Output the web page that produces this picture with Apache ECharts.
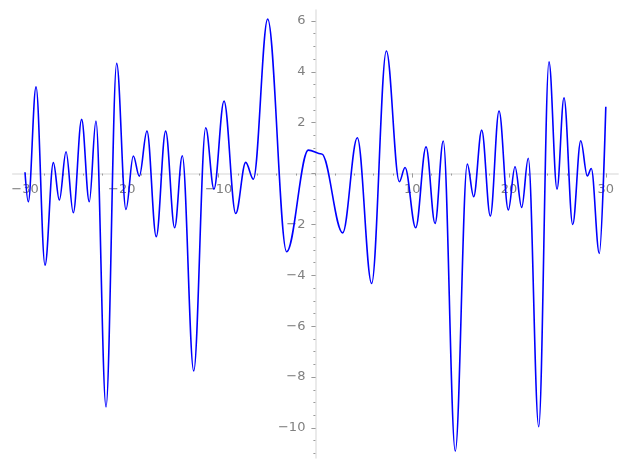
<!DOCTYPE html>
<html>
<head>
<meta charset="utf-8">
<script src="https://cdn.jsdelivr.net/npm/echarts@6/dist/echarts.min.js"></script>
<style>html,body{margin:0;padding:0;background:#fff}#c{width:627px;height:470px}</style>
</head>
<body>
<div id="c"></div>
<script>
// Curve samples (x, y), mostly local extrema
var xValues = [-30.0, -29.66, -28.86, -27.93, -27.07, -26.45, -25.76, -25.01, -24.15, -23.36,
  -22.67, -21.63, -20.53, -19.57, -18.81, -18.19, -17.40, -16.44, -15.47, -14.54,
  -13.75, -12.57, -11.33, -10.48, -9.44, -8.23, -7.20, -6.41, -4.93, -2.97,
  -0.73, 0.65, 2.82, 4.33, 5.81, 7.33, 8.67, 9.26, 10.36, 11.43,
  12.36, 13.21, 14.45, 15.69, 16.35, 17.18, 18.07, 18.97, 19.93, 20.62,
  21.31, 21.99, 23.07, 24.13, 24.96, 25.68, 26.58, 27.41, 28.09, 28.50,
  29.33, 30.0];
var yValues = [0.05, -1.11, 3.41, -3.60, 0.43, -1.04, 0.86, -1.54, 2.13, -1.11,
  2.06, -9.17, 4.33, -1.41, 0.69, -0.10, 1.67, -2.48, 1.67, -2.13,
  0.70, -7.76, 1.80, -0.61, 2.85, -1.57, 0.44, -0.22, 6.07, -3.07,
  0.92, 0.77, -2.33, 1.41, -4.32, 4.82, -0.32, 0.24, -2.13, 1.05,
  -1.96, 1.28, -10.91, 0.37, -0.91, 1.71, -1.67, 2.46, -1.43, 0.27,
  -1.33, 0.60, -9.95, 4.39, -0.61, 2.98, -2.0, 1.29, -0.09, 0.20,
  -3.14, 2.63];
var xTickLabels = [-30, -20, -10, 10, 20, 30];
var xMinorTicks = [-30, -28, -26, -24, -22, -20, -18, -16, -14, -12, -10, -8, -6, -4, -2, 0, 2, 4, 6, 8, 10, 12, 14, 16, 18, 20, 22, 24, 26, 28, 30];
var yTickLabels = [-10, -8, -6, -4, -2, 2, 4, 6];
var yMajorTicks = [-10, -8, -6, -4, -2, 0, 2, 4, 6];
var yMinorTicks = [-11, -10.5, -10, -9.5, -9, -8.5, -8, -7.5, -7, -6.5, -6, -5.5, -5, -4.5, -4, -3.5, -3, -2.5, -2, -1.5, -1, -0.5,
  0, 0.5, 1, 1.5, 2, 2.5, 3, 3.5, 4, 4.5, 5, 5.5, 6];

var points = xValues.map(function (x, i) { return [x, yValues[i]]; });

var W = 627, H = 470;
var XMIN = -31.27, XMAX = 31.27, YMIN = -11.18, YMAX = 6.43;
var GL = 12.7, GR = 8.9, GT = 10, GB = 12;
var gw = W - GL - GR, gh = H - GT - GB;
// place axes at the origin via offsets (measured from the grid edges)
var zeroX = GL + (0 - XMIN) / (XMAX - XMIN) * gw;
var zeroY = GT + (YMAX - 0) / (YMAX - YMIN) * gh;
var xOffset = zeroY - (H - GB);   // negative: move bottom axis up
var yOffset = GL - zeroX;         // negative: move left axis right

var labelColor = '#808080', tickColor = '#9a9a9a', lineColor = '#e3e3e3';
function fmt(v) { return v < 0 ? '\u2212' + Math.abs(v) : String(v); }

var chart = echarts.init(document.getElementById('c'), null, {renderer: 'canvas'});
chart.setOption({
  animation: false,
  backgroundColor: '#ffffff',
  grid: {left: GL, right: GR, top: GT, bottom: GB, containLabel: false, outerBoundsMode: 'none'},
  xAxis: [{
    type: 'value', min: XMIN, max: XMAX, position: 'bottom', offset: xOffset,
    axisLine: {show: true, onZero: false, lineStyle: {color: lineColor, width: 1.5}},
    axisTick: {show: true, customValues: xTickLabels, length: 4, lineStyle: {color: tickColor, width: 1}},
    axisLabel: {show: true, customValues: xTickLabels, formatter: fmt, margin: 10, color: labelColor,
      fontSize: 13, fontFamily: 'DejaVu Sans', hideOverlap: false},
    splitLine: {show: false}
  }, {
    type: 'value', min: XMIN, max: XMAX, position: 'bottom', offset: xOffset,
    axisLine: {show: false, onZero: false},
    axisTick: {show: true, customValues: xMinorTicks, length: 2, lineStyle: {color: tickColor, width: 1}},
    axisLabel: {show: false},
    splitLine: {show: false}
  }],
  yAxis: [{
    type: 'value', min: YMIN, max: YMAX, position: 'left', offset: yOffset,
    axisLine: {show: true, onZero: false, lineStyle: {color: lineColor, width: 1.5}},
    axisTick: {show: true, customValues: yMajorTicks, length: 4, lineStyle: {color: tickColor, width: 1}},
    axisLabel: {show: true, customValues: yTickLabels, formatter: fmt, margin: 10, color: labelColor,
      fontSize: 13, fontFamily: 'DejaVu Sans', hideOverlap: false},
    splitLine: {show: false}
  }, {
    type: 'value', min: YMIN, max: YMAX, position: 'left', offset: yOffset,
    axisLine: {show: false, onZero: false},
    axisTick: {show: true, customValues: yMinorTicks, length: 2, lineStyle: {color: tickColor, width: 1}},
    axisLabel: {show: false},
    splitLine: {show: false}
  }],
  series: [{
    type: 'line', xAxisIndex: 0, yAxisIndex: 0,
    data: points, showSymbol: false, symbol: 'none',
    smooth: 0.36, smoothMonotone: 'x',
    lineStyle: {color: '#0000ff', width: 1.6},
    clip: true
  }]
});
</script>
</body>
</html>
